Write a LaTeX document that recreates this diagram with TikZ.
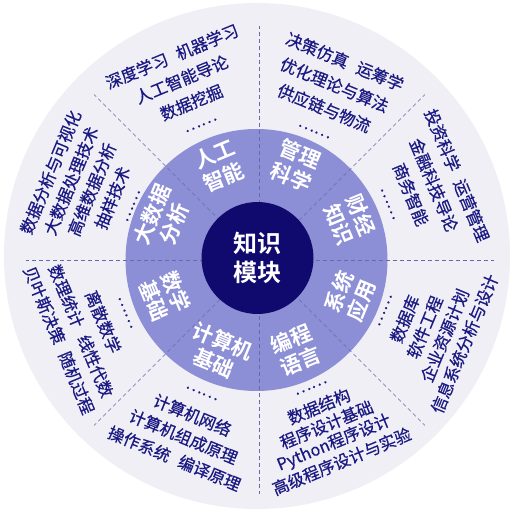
\documentclass[tikz,border=0pt]{standalone}
\usepackage{fontspec}
\newfontfamily\cjk{Noto Sans CJK SC}[FakeBold=0.5]
\newfontfamily\cjkb{Noto Sans CJK SC Bold}
\usetikzlibrary{calc}
\definecolor{outerbg}{RGB}{239,239,245}
\definecolor{ringc}{RGB}{140,142,214}
\definecolor{corec}{RGB}{16,10,110}
\definecolor{txtc}{RGB}{26,24,130}
\definecolor{dashc}{RGB}{105,105,170}
\newcommand\secttext[5]{% #1 name, #2 angle, #3 rotation, #4 r0, #5 step, lines via \sectlines
  \foreach \t [count=\i from 0] in \sectlines {
    \node[outtext, rotate=#3] (#1-\i) at ($(C)+(#2:{#4-\i*#5})$) {\t};
  }
}
\begin{document}
\begin{tikzpicture}[x=1pt,y=1pt,
  outtext/.style={font=\cjk\fontsize{16.5}{16.5}\selectfont, text=txtc, inner sep=0pt},
  ringtext/.style={font=\cjkb\fontsize{21}{24}\selectfont, text=white, align=center, inner sep=0pt},
  coretext/.style={font=\cjkb\fontsize{24}{29}\selectfont, text=white, align=center, inner sep=0pt},
  dashline/.style={dashc, line width=0.7pt, dash pattern=on 4pt off 3pt}]
\useasboundingbox (0,0) rectangle (513,515);
\coordinate (C) at (257.5,257);
\coordinate (D) at (259.5,255);
\fill[outerbg] (257,259) circle (253);
\fill[ringc] (256.5,255) circle (131);
\foreach \a in {0,45,...,315} \draw[dashline] ($(D)+(\a:56)$) -- ($(D)+(\a:234)$);
\fill[corec] (C) circle (56);
\node[coretext] (core) at (C) {知识\\模块};
% ring labels
\node[ringtext, rotate=22.5]  (r1) at ($(C)+(112.5:100)$) {人工\\智能};
\node[ringtext, rotate=-22.5] (r2) at ($(C)+(67.5:100)$) {管理\\科学};
\node[ringtext, rotate=-67.5] (r3) at ($(C)+(22.5:100)$) {财经\\知识};
\node[ringtext, rotate=67.5]  (r4) at ($(C)+(-22.5:100)$) {系统\\应用};
\node[ringtext, rotate=22.5]  (r5) at ($(C)+(-67.5:100)$) {编程\\语言};
\node[ringtext, rotate=-22.5] (r6) at ($(C)+(-112.5:102)$) {计算机\\基础};
\node[ringtext, rotate=-67.5] (r7) at ($(C)+(-157.5:100)$) {数学\\基础};
\node[ringtext, rotate=67.5]  (r8) at ($(C)+(157.5:102)$) {大数据\\分析};
% outer texts
\def\sectlines{{深度学习\hspace{0.6em}机器学习},人工智能导论,数据挖掘,……}
\secttext{ai}{113}{22.5}{219}{25}
\def\sectlines{{决策仿真\hspace{0.6em}运筹学},优化理论与算法,供应链与物流,……}
\secttext{ms}{66}{-22.5}{215}{25.5}
\def\sectlines{{投资科学\hspace{0.6em}运营管理},金融科技导论,商务智能,……}
\secttext{fe}{22.5}{-67.5}{216}{25}
\def\sectlines{信息系统分析与设计,企业资源计划,软件工程,数据库,……}
\secttext{sa}{-22.5}{67.5}{224}{21.5}
\def\sectlines{高级程序设计与实验,Python程序设计,程序设计基础,数据结构,……}
\secttext{pl}{-67.5}{22.5}{220}{19.8}
\def\sectlines{{操作系统\hspace{0.6em}编译原理},计算机组成原理,计算机网络,……}
\secttext{cs}{-112.5}{-22.5}{217}{23.5}
\def\sectlines{{贝叶斯决策\hspace{0.6em}随机过程},{数理统计\hspace{0.6em}线性代数},离散数学,……}
\secttext{mb}{-157.5}{-67.5}{215}{24}
\def\sectlines{数据分析与可视化,大数据处理技术,高维数据分析,抽样技术,……}
\secttext{bd}{157.5}{67.5}{224}{22.3}
\end{tikzpicture}
\end{document}
